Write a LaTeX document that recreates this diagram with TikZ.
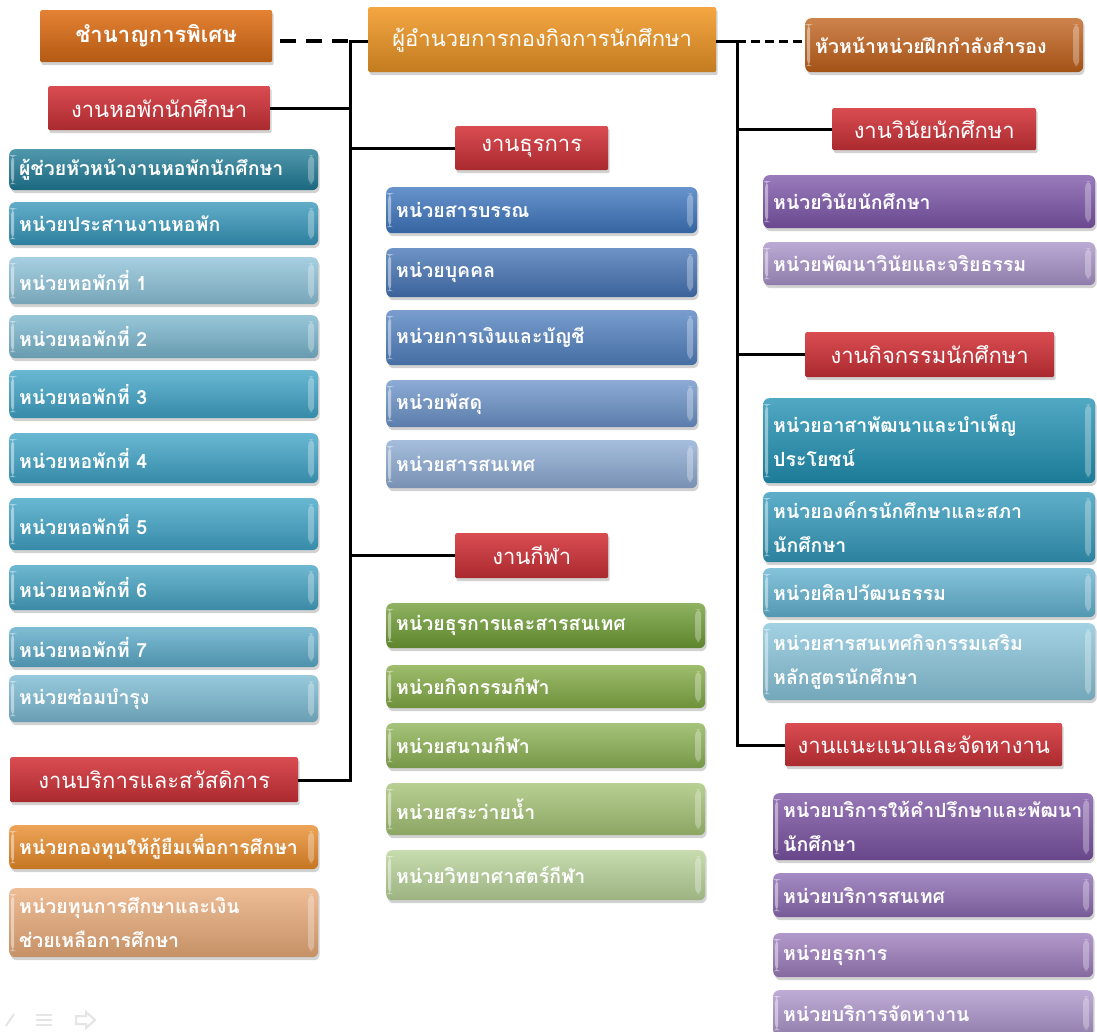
\documentclass[tikz,border=0pt]{standalone}
\usepackage{fontspec}
\newfontfamily\thai[Script=Thai]{Loma}
\usetikzlibrary{shadows}
\definecolor{cSpec}{HTML}{E07018}
\definecolor{cBoss}{HTML}{F39A28}
\definecolor{cRes}{HTML}{C0601A}
\definecolor{cRed}{HTML}{D4343A}
\definecolor{tA}{HTML}{1F7A95}
\definecolor{tB}{HTML}{3596BA}
\definecolor{tC}{HTML}{8CC2D8}
\definecolor{tD}{HTML}{7AB6CE}
\definecolor{tE}{HTML}{3FA3C6}
\definecolor{tF}{HTML}{45A2C2}
\definecolor{tG}{HTML}{5BAAC8}
\definecolor{tH}{HTML}{7BBAD2}
\definecolor{oA}{HTML}{E88A28}
\definecolor{oB}{HTML}{E8AA78}
\definecolor{bA}{HTML}{3D75BE}
\definecolor{bB}{HTML}{4574B5}
\definecolor{bC}{HTML}{5281C0}
\definecolor{bD}{HTML}{6C93C9}
\definecolor{bE}{HTML}{8DABD3}
\definecolor{gA}{HTML}{6E9C34}
\definecolor{gB}{HTML}{82AA44}
\definecolor{gC}{HTML}{8CB254}
\definecolor{gD}{HTML}{A4C274}
\definecolor{gE}{HTML}{B8D298}
\definecolor{pA}{HTML}{7C55A8}
\definecolor{pB}{HTML}{A892C8}
\definecolor{pC}{HTML}{7A52A2}
\definecolor{pD}{HTML}{8B6AB2}
\definecolor{pE}{HTML}{9C7CBC}
\definecolor{pF}{HTML}{AC94CA}
\definecolor{rA}{HTML}{2090B2}
\definecolor{rB}{HTML}{3298BA}
\definecolor{rC}{HTML}{62B2D0}
\definecolor{rD}{HTML}{88C4DA}
\tikzset{
  basebox/.style={inner sep=0pt, text=white,
    drop shadow={opacity=.35, shadow xshift=1.5pt, shadow yshift=-3pt}},
  unitbox/.style={basebox, rounded corners=6pt,
    top color=#1!78!white, bottom color=#1!85!black, align=left,
    font=\thai\bfseries\fontsize{19.5}{34}\selectfont,
    path picture={
      \fill[white,opacity=.45] ([xshift=2pt,yshift=-6pt]path picture bounding box.north west)
        rectangle ([xshift=5pt,yshift=6pt]path picture bounding box.south west);
      \fill[white,opacity=.3] ([xshift=-10pt,yshift=-6pt]path picture bounding box.north east)
        rectangle ([xshift=-4pt,yshift=6pt]path picture bounding box.south east);}},
  headbox/.style={basebox, rounded corners=1.5pt,
    top color=#1!88!white, bottom color=#1!80!black, align=center,
    font=\thai\fontsize{22}{26}\selectfont},
  conn/.style={line width=3pt, black},
  dashleft/.style={line width=4pt, black, dash pattern=on 16pt off 10pt},
  dashright/.style={line width=3pt, black, dash pattern=on 9pt off 5pt},
  faint/.style={gray!20, line width=2pt}
}
\newcommand\ubox[7]{%
  \pgfmathsetmacro\bw{#4-#2}\pgfmathsetmacro\bh{#5-#3}\pgfmathsetmacro\tw{#4-#2-20}%
  \node[unitbox=#6, minimum width=\bw pt, minimum height=\bh pt, text width=\tw pt,
    anchor=north west] (#1) at (#2,#3) {#7};}
\newcommand\hdbox[7]{%
  \pgfmathsetmacro\bw{#4-#2}\pgfmathsetmacro\bh{#5-#3}%
  \node[headbox=#6, minimum width=\bw pt, minimum height=\bh pt,
    anchor=north west] (#1) at (#2,#3) {#7};}
\begin{document}
\begin{tikzpicture}[x=1pt,y=-1pt]
\fill[white] (0,0) rectangle (1097,1031);
\useasboundingbox (0,0) rectangle (1097,1031);
% top row
\hdbox{spec}{40}{10}{272}{62}{cSpec}{\bfseries ชำนาญการพิเศษ}
\hdbox{boss}{368}{7}{716}{72}{cBoss}{ผู้อำนวยการกองกิจการนักศึกษา}
\ubox{res}{805}{18}{1083}{72}{cRes}{หัวหน้าหน่วยฝึกกำลังสำรอง}
% section heads
\hdbox{dorm}{48}{86}{270}{130}{cRed}{งานหอพักนักศึกษา}
\hdbox{admin}{455}{126}{608}{170}{cRed}{งานธุรการ}
\hdbox{sport}{455}{533}{608}{578}{cRed}{งานกีฬา}
\hdbox{serv}{10}{757}{298}{802}{cRed}{งานบริการและสวัสดิการ}
\hdbox{disc}{832}{108}{1036}{150}{cRed}{งานวินัยนักศึกษา}
\hdbox{act}{805}{332}{1054}{377}{cRed}{งานกิจกรรมนักศึกษา}
\hdbox{guid}{785}{723}{1062}{766}{cRed}{งานแนะแนวและจัดหางาน}
% left column
\ubox{d0}{9}{149}{318}{190}{tA}{ผู้ช่วยหัวหน้างานหอพักนักศึกษา}
\ubox{d1}{9}{202}{318}{245}{tB}{หน่วยประสานงานหอพัก}
\ubox{d2}{9}{257}{318}{304}{tC}{หน่วยหอพักที่ 1}
\ubox{d3}{9}{315}{318}{358}{tD}{หน่วยหอพักที่ 2}
\ubox{d4}{9}{370}{318}{418}{tE}{หน่วยหอพักที่ 3}
\ubox{d5}{9}{433}{318}{483}{tE}{หน่วยหอพักที่ 4}
\ubox{d6}{9}{498}{318}{550}{tE}{หน่วยหอพักที่ 5}
\ubox{d7}{9}{565}{318}{610}{tF}{หน่วยหอพักที่ 6}
\ubox{d8}{9}{627}{318}{667}{tG}{หน่วยหอพักที่ 7}
\ubox{d9}{9}{675}{318}{722}{tH}{หน่วยซ่อมบำรุง}
\ubox{loan}{9}{825}{318}{869}{oA}{หน่วยกองทุนให้กู้ยืมเพื่อการศึกษา}
\ubox{schol}{9}{888}{318}{957}{oB}{หน่วยทุนการศึกษาและเงิน\\ช่วยเหลือการศึกษา}
% middle column
\ubox{a1}{386}{187}{697}{233}{bA}{หน่วยสารบรรณ}
\ubox{a2}{386}{248}{697}{297}{bB}{หน่วยบุคคล}
\ubox{a3}{386}{310}{697}{365}{bC}{หน่วยการเงินและบัญชี}
\ubox{a4}{386}{380}{697}{427}{bD}{หน่วยพัสดุ}
\ubox{a5}{386}{440}{697}{488}{bE}{หน่วยสารสนเทศ}
\ubox{s1}{386}{603}{705}{648}{gA}{หน่วยธุรการและสารสนเทศ}
\ubox{s2}{386}{665}{705}{708}{gB}{หน่วยกิจกรรมกีฬา}
\ubox{s3}{386}{723}{705}{768}{gC}{หน่วยสนามกีฬา}
\ubox{s4}{386}{783}{705}{835}{gD}{หน่วยสระว่ายน้ำ}
\ubox{s5}{386}{850}{705}{900}{gE}{หน่วยวิทยาศาสตร์กีฬา}
% right column
\ubox{v1}{763}{175}{1095}{228}{pA}{หน่วยวินัยนักศึกษา}
\ubox{v2}{763}{242}{1095}{285}{pB}{หน่วยพัฒนาวินัยและจริยธรรม}
\ubox{c1}{763}{398}{1095}{483}{rA}{หน่วยอาสาพัฒนาและบำเพ็ญ\\ประโยชน์}
\ubox{c2}{763}{492}{1095}{562}{rB}{หน่วยองค์กรนักศึกษาและสภา\\นักศึกษา}
\ubox{c3}{763}{568}{1095}{617}{rC}{หน่วยศิลปวัฒนธรรม}
\ubox{c3b}{763}{623}{1095}{700}{rD}{หน่วยสารสนเทศกิจกรรมเสริม\\หลักสูตรนักศึกษา}
\ubox{g1}{773}{793}{1093}{860}{pC}{หน่วยบริการให้คำปรึกษาและพัฒนา\\นักศึกษา}
\ubox{g2}{773}{873}{1093}{917}{pD}{หน่วยบริการสนเทศ}
\ubox{g3}{773}{933}{1093}{977}{pE}{หน่วยธุรการ}
\ubox{g4}{773}{990}{1093}{1036}{pF}{หน่วยบริการจัดหางาน}
% connectors
\coordinate (LT) at (350,41);
\coordinate (LB) at (350,780);
\coordinate (RT) at (737,41);
\coordinate (RB) at (737,745);
\draw[dashleft] ([xshift=8pt]spec.east |- LT) -- (LT);
\draw[conn] (boss.west |- LT) -- (LT) -- (LB) -- (serv.east |- LB);
\draw[conn] (dorm.east) -- (dorm.east -| LT);
\draw[conn] (admin.west) -- (admin.west -| LT);
\draw[conn] (sport.west) -- (sport.west -| LT);
\draw[conn] (boss.east |- RT) -- (RT) -- (RB) -- (guid.west |- RB);
\draw[dashright] (RT) -- (res.west |- RT);
\draw[conn] (disc.west) -- (disc.west -| RT);
\draw[conn] (act.west) -- (act.west -| RT);
% faint slide icons
\draw[faint] (6,1026) -- (14,1014);
\draw[faint] (36,1015) -- (52,1015) (36,1020) -- (52,1020) (36,1025) -- (52,1025);
\draw[faint] (76,1016) -- (86,1016) -- (86,1012) -- (95,1020) -- (86,1028) -- (86,1024) -- (76,1024) -- cycle;
\end{tikzpicture}
\end{document}
